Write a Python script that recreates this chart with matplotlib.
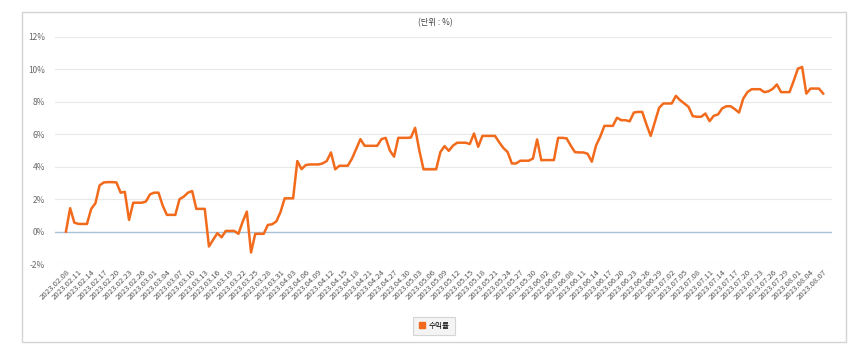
import matplotlib
matplotlib.use("Agg")
import matplotlib.pyplot as plt
from matplotlib.patches import Rectangle
from matplotlib.lines import Line2D
import pandas as pd

plt.rcParams['font.family'] = ['Noto Sans CJK KR', 'DejaVu Sans']

# ---- data ----
start_date = "2023-02-08"
end_date = "2023-08-07"
dates = pd.date_range(start_date, end_date, freq="D")
date_labels = [d.strftime("%Y.%m.%d") for d in dates]

returns = [
    0.0, 1.44, 0.55, 0.47, 0.47, 0.47, 1.4, 1.74, 2.85, 3.03,
    3.05, 3.05, 3.03, 2.4, 2.45, 0.72, 1.78, 1.78, 1.78, 1.85,
    2.3, 2.4, 2.4, 1.6, 1.03, 1.03, 1.03, 2.0, 2.15, 2.4,
    2.5, 1.4, 1.4, 1.4, -0.92, -0.5, -0.1, -0.35, 0.04, 0.04,
    0.04, -0.14, 0.6, 1.23, -1.29, -0.14, -0.14, -0.14, 0.41, 0.45,
    0.62, 1.2, 2.05, 2.05, 2.05, 4.35, 3.85, 4.1, 4.14, 4.14,
    4.14, 4.2, 4.35, 4.88, 3.84, 4.06, 4.06, 4.06, 4.5, 5.1,
    5.7, 5.29, 5.29, 5.29, 5.29, 5.7, 5.78, 5.0, 4.62, 5.78,
    5.78, 5.78, 5.8, 6.4, 5.0, 3.84, 3.84, 3.84, 3.84, 4.9,
    5.27, 4.98, 5.3, 5.48, 5.48, 5.48, 5.4, 6.05, 5.23, 5.9,
    5.9, 5.9, 5.9, 5.5, 5.15, 4.9, 4.2, 4.2, 4.37, 4.37,
    4.37, 4.5, 5.68, 4.4, 4.41, 4.41, 4.41, 5.78, 5.78, 5.75,
    5.3, 4.9, 4.88, 4.88, 4.8, 4.31, 5.3, 5.85, 6.52, 6.52,
    6.52, 7.02, 6.87, 6.87, 6.8, 7.34, 7.38, 7.38, 6.6, 5.9,
    6.77, 7.63, 7.9, 7.9, 7.9, 8.37, 8.1, 7.9, 7.69, 7.12,
    7.08, 7.08, 7.28, 6.81, 7.14, 7.22, 7.6, 7.73, 7.73, 7.55,
    7.34, 8.2, 8.6, 8.78, 8.78, 8.78, 8.6, 8.65, 8.8, 9.07,
    8.6, 8.6, 8.6, 9.3, 10.05, 10.15, 8.51, 8.82, 8.82, 8.82,
    8.51,
]
yticks = [-2, 0, 2, 4, 6, 8, 10, 12]
series_name = "수익률"
unit_title = "(단위 : %)"

LINE_COLOR = "#F26A1B"

W, H = 860, 355
fig = plt.figure(figsize=(W / 100, H / 100), dpi=100)
fig.patch.set_facecolor("white")

# outer frame
fig.patches.append(Rectangle((22 / W, (H - 342) / H), (846 - 22) / W, (342 - 12) / H,
                             transform=fig.transFigure, fill=False,
                             edgecolor="#d4d4d4", linewidth=1.0))

ax = fig.add_axes([55 / W, (H - 264) / H, (832 - 55) / W, (264 - 37) / H])
x = list(range(len(dates)))
ax.set_xlim(-2.6, len(dates) - 1 + 2.1)
ax.set_ylim(-2, 12)

ax.set_yticks(yticks)
ax.set_yticklabels([f"{v}%" for v in yticks], fontsize=6, color="#666666")
ax.yaxis.grid(True, color="#e8e8e8", linewidth=0.8)
ax.set_axisbelow(True)
ax.axhline(0, color="#a9c2d8", linewidth=1.0, zorder=1)

ax.plot(x, returns, color=LINE_COLOR, linewidth=1.8, solid_joinstyle="round", zorder=3)

tick_idx = x[::3]
ax.set_xticks(tick_idx)
ax.set_xticklabels([date_labels[i] for i in tick_idx], rotation=45, ha="right",
                   va="top", rotation_mode="anchor", fontsize=5.6, color="#555555")
ax.tick_params(axis="both", length=0, pad=3)
ax.tick_params(axis="y", pad=7)
for s in ax.spines.values():
    s.set_visible(False)

fig.text(435 / W, (H - 23) / H, unit_title, ha="center", va="center",
         fontsize=6, color="#444444")

handle = Line2D([], [], marker="s", linestyle="none", color=LINE_COLOR, markersize=5)
leg = fig.legend([handle], [series_name], loc="center", bbox_to_anchor=(434 / W, (H - 326) / H),
                 fontsize=5.5, frameon=True, handletextpad=0.3, borderpad=0.7,
                 handlelength=1.0, fancybox=False)
leg.get_frame().set_facecolor("#f2f2f2")
leg.get_frame().set_edgecolor("#cccccc")
leg.get_frame().set_linewidth(0.8)

fig.savefig("out.png", dpi=100, facecolor="white")
